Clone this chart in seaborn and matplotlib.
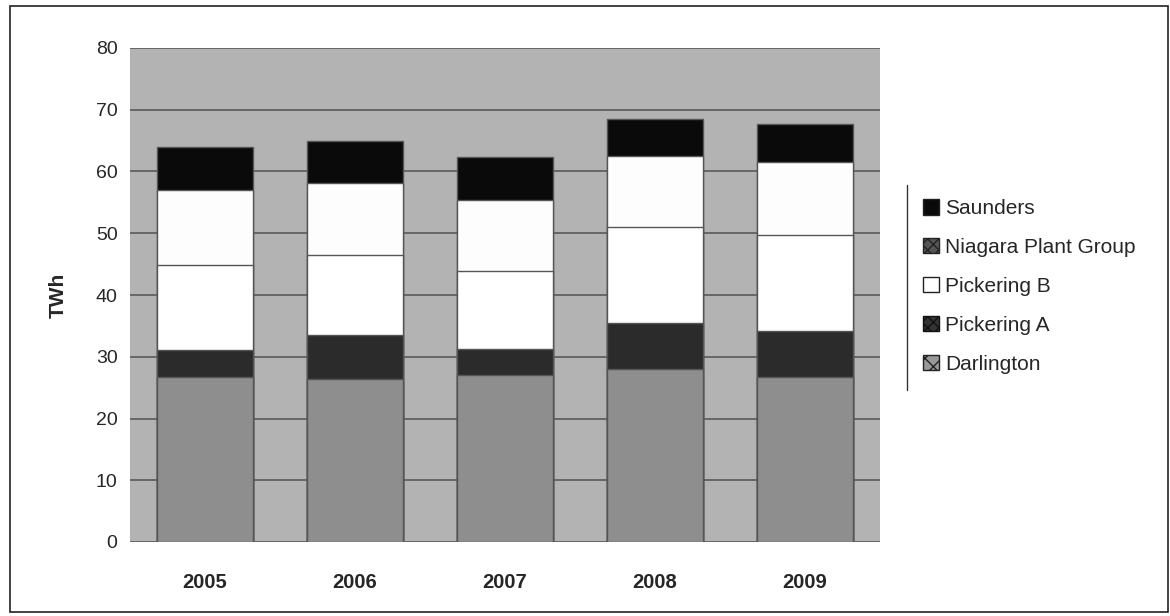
import numpy as np
import pandas as pd
import seaborn as sns
import matplotlib.pyplot as plt
from matplotlib.patches import Patch, Rectangle

years = ['2005', '2006', '2007', '2008', '2009']
darlington = [26.7, 26.4, 27.0, 28.0, 26.7]
pickering_a = [4.4, 7.2, 4.3, 7.4, 7.4]
pickering_b = [13.7, 12.8, 12.6, 15.6, 15.6]
niagara = [12.2, 11.8, 11.5, 11.5, 11.9]
saunders = [6.9, 6.7, 6.9, 6.0, 6.1]

series = ['Darlington', 'Pickering A', 'Pickering B', 'Niagara Plant Group', 'Saunders']
face = {'Darlington': '#8e8e8e', 'Pickering A': '#2b2b2b', 'Pickering B': '#ffffff',
        'Niagara Plant Group': '#fdfdfd', 'Saunders': '#0a0a0a'}

df = pd.DataFrame({'year': years, 'Darlington': darlington, 'Pickering A': pickering_a,
                   'Pickering B': pickering_b, 'Niagara Plant Group': niagara,
                   'Saunders': saunders})
cum = df[series].cumsum(axis=1)
cum['year'] = df['year']

sns.set_style('white')
plt.rcParams['font.family'] = ['Liberation Sans', 'DejaVu Sans']

fig = plt.figure(figsize=(11.7, 6.16), dpi=100)
ax = fig.add_axes([130 / 1170, 1 - 542 / 616, 750 / 1170, 494 / 616])
ax.set_facecolor('#b3b3b3')

# draw cumulative totals from the top series down so each layer covers the one above
for name in series[::-1]:
    sns.barplot(data=cum, x='year', y=name, color=face[name], width=0.64,
                edgecolor='#555555', linewidth=1.0, saturation=1, ax=ax, zorder=3)

ax.set_ylim(0, 80)
ax.set_xlim(-0.5, 4.5)
ax.set_yticks(np.arange(0, 81, 10))
ax.yaxis.grid(True, color='#5a5a5a', linewidth=1.2, zorder=0)
ax.set_axisbelow(True)
for s in ax.spines.values():
    s.set_visible(False)
ax.tick_params(axis='y', length=0, labelsize=14, pad=9)
ax.tick_params(axis='x', length=0, labelsize=14.5, pad=22)
for lab in ax.get_xticklabels():
    lab.set_fontweight('bold')
ax.set_xlabel('')
ax.set_ylabel('TWh', fontsize=15, fontweight='bold', labelpad=20)

handles = [Patch(facecolor=face[n], edgecolor='#222222', label=n) for n in series[::-1]]
handles[1] = Patch(facecolor='#555555', edgecolor='#222222', hatch='xxx', label='Niagara Plant Group')
handles[3] = Patch(facecolor='#333333', edgecolor='#111111', hatch='xxx', label='Pickering A')
handles[4] = Patch(facecolor='#999999', edgecolor='#222222', hatch='xx', label='Darlington')
leg = fig.legend(handles=handles, loc='upper left', bbox_to_anchor=(915 / 1170, 1 - 191 / 616),
                 frameon=False, fontsize=15, handlelength=0.75, handleheight=0.75,
                 handletextpad=0.3, labelspacing=0.95, borderaxespad=0)
fig.add_artist(plt.Line2D([907 / 1170, 907 / 1170], [1 - 185 / 616, 1 - 390 / 616],
                          color='#333333', linewidth=1, transform=fig.transFigure))

# outer chart frame
fig.add_artist(Rectangle((10 / 1170, 4 / 616), 1158 / 1170, 606 / 616, fill=False,
                         edgecolor='#222222', linewidth=1.2, transform=fig.transFigure))

fig.savefig('out.png', dpi=100)
